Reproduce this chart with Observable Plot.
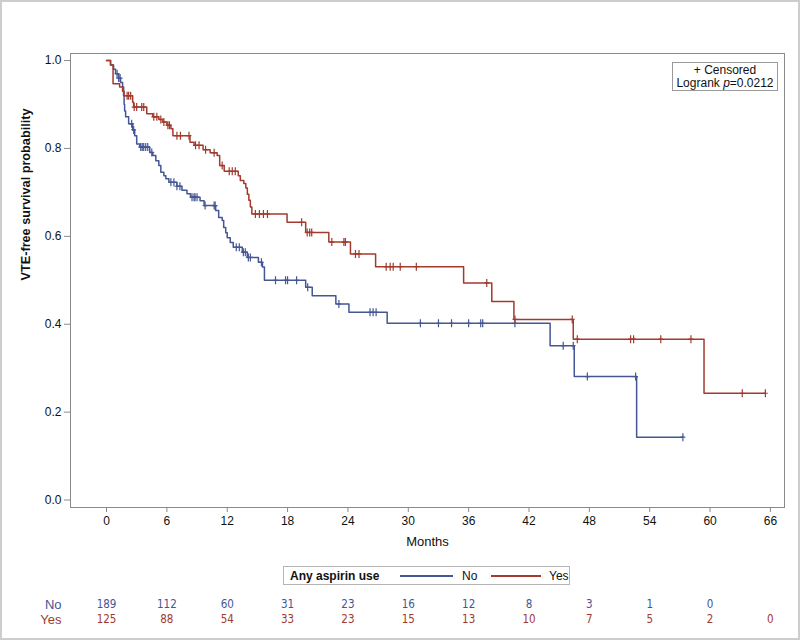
<!DOCTYPE html>
<html><head><meta charset="utf-8">
<script src="https://cdn.jsdelivr.net/npm/d3@7"></script>
<script src="https://cdn.jsdelivr.net/npm/@observablehq/plot@0.6"></script>
<style>
html,body{margin:0;padding:0;background:#fff;}
#wrap{position:relative;width:800px;height:640px;overflow:hidden;font-family:"Liberation Sans",Arial,sans-serif;color:#222;}
#wrap svg{position:absolute;left:0;}
#border{position:absolute;left:0;top:0;width:800px;height:640px;box-sizing:border-box;border:2px solid #cdcdcd;pointer-events:none;}
#inset{position:absolute;left:672px;top:62px;width:106px;height:29px;box-sizing:border-box;border:1px solid #9a9a9a;background:#fff;font-size:12px;line-height:13px;text-align:center;padding-top:1px;color:#111;}
#legend{position:absolute;left:283px;top:566px;width:287px;height:19px;box-sizing:border-box;border:1px solid #b5b5b5;font-size:12px;color:#111;}
#legend span{position:absolute;top:2px;}
#legend i.ln{position:absolute;top:8px;height:0;border-top:2px solid;}
</style></head>
<body><div id="wrap"><div id="border"></div></div>
<script>
// ---- data ----
const groups = ["No", "Yes"];
const groupColors = ["#445694", "#A23A2E"];

const noTimes = [0, 0.4, 0.7, 0.9, 1.2, 1.4, 1.6, 1.7, 1.75, 1.8, 1.9, 2.2, 2.6, 2.8, 3.0, 3.3, 4.3, 4.6, 4.9, 5.2, 5.4, 5.7, 5.9, 6.2, 7.0, 7.5, 8.0, 8.35, 9.3, 9.7, 10.85, 11.15, 11.5, 11.65, 11.85, 12.0, 12.3, 12.6, 13.5, 14.0, 15.1, 15.5, 15.7, 19.8, 20.45, 22.8, 24.1, 27.9, 44.1, 46.5, 52.7, 57.3];
const noSurv  = [1.0, 0.99, 0.98, 0.97, 0.96, 0.95, 0.94, 0.92, 0.90, 0.885, 0.872, 0.856, 0.842, 0.829, 0.81, 0.803, 0.791, 0.784, 0.772, 0.761, 0.746, 0.738, 0.731, 0.723, 0.714, 0.705, 0.697, 0.689, 0.681, 0.67, 0.659, 0.643, 0.636, 0.62, 0.608, 0.597, 0.586, 0.575, 0.564, 0.552, 0.541, 0.53, 0.50, 0.484, 0.465, 0.446, 0.427, 0.402, 0.351, 0.281, 0.143, 0.143];
const noCensored = [1.05, 1.2, 1.35, 2.5, 2.7, 3.4, 3.55, 3.7, 3.9, 4.1, 4.5, 6.4, 6.7, 7.0, 7.3, 8.5, 8.7, 8.8, 9.0, 9.8, 10.7, 10.8, 12.9, 13.2, 13.6, 13.8, 14.1, 14.3, 15.4, 16.8, 17.8, 18.0, 18.9, 20.0, 23.1, 26.2, 26.5, 26.8, 31.2, 33.0, 34.3, 36.0, 37.2, 37.4, 40.6, 45.4, 46.4, 47.8, 52.6, 57.3];

const yesTimes = [0, 0.4, 0.65, 1.3, 1.6, 1.75, 2.6, 2.7, 4.0, 4.6, 5.2, 5.6, 6.0, 6.4, 6.6, 8.3, 8.7, 9.6, 10.3, 11.0, 11.25, 11.7, 13.1, 13.3, 13.65, 13.85, 14.0, 14.15, 14.3, 14.45, 17.95, 19.8, 22.1, 24.25, 26.75, 35.5, 38.3, 40.5, 46.4, 59.4, 65.5];
const yesSurv  = [1.0, 0.99, 0.947, 0.94, 0.93, 0.92, 0.905, 0.894, 0.879, 0.872, 0.866, 0.86, 0.853, 0.845, 0.829, 0.814, 0.807, 0.797, 0.79, 0.784, 0.761, 0.748, 0.738, 0.727, 0.72, 0.71, 0.696, 0.682, 0.667, 0.651, 0.632, 0.609, 0.587, 0.56, 0.531, 0.494, 0.452, 0.411, 0.366, 0.243, 0.243];
const yesCensored = [2.05, 2.2, 2.4, 2.75, 3.0, 3.5, 3.7, 4.7, 5.0, 5.4, 5.7, 6.1, 6.25, 7.0, 7.35, 8.2, 8.85, 9.2, 9.85, 10.7, 11.5, 12.2, 12.5, 12.8, 14.8, 15.2, 15.6, 16.0, 19.4, 19.95, 20.2, 20.4, 22.4, 23.6, 23.75, 24.75, 25.1, 27.8, 28.2, 28.5, 29.2, 30.8, 37.8, 40.6, 46.3, 46.8, 52.1, 52.4, 55.1, 58.1, 63.2, 65.5];

const monthTicks = [0, 6, 12, 18, 24, 30, 36, 42, 48, 54, 60, 66];
const probTicks = [0, 0.2, 0.4, 0.6, 0.8, 1.0];
const riskTimes = [0, 6, 12, 18, 24, 30, 36, 42, 48, 54, 60, 66];
const noAtRisk  = [189, 112, 60, 31, 23, 16, 12, 8, 3, 1, 0];
const yesAtRisk = [125, 88, 54, 33, 23, 15, 13, 10, 7, 5, 2, 0];

const xLabel = "Months";
const yLabel = "VTE-free survival probability";

// ---- build tables ----
function stepRows(group, times, surv) { return times.map((t, i) => ({group, t, s: surv[i]})); }
function survAt(times, surv, t) { let v = surv[0]; for (let i = 0; i < times.length; i++) if (times[i] <= t) v = surv[i]; return v; }
const curves = [...stepRows("No", noTimes, noSurv), ...stepRows("Yes", yesTimes, yesSurv)];
const censors = [
  ...noCensored.map(t => ({group: "No", t, s: survAt(noTimes, noSurv, t)})),
  ...yesCensored.map(t => ({group: "Yes", t, s: survAt(yesTimes, yesSurv, t)}))
];
const risk = [
  ...noAtRisk.map((n, i) => ({group: "No", t: riskTimes[i], n})),
  ...yesAtRisk.map((n, i) => ({group: "Yes", t: riskTimes[i], n}))
];

const plusSymbol = {
  draw(ctx, size) {
    const r = Math.sqrt(size / Math.PI);
    ctx.moveTo(0, -r); ctx.lineTo(0, r);
    ctx.moveTo(-r * 0.6, 0); ctx.lineTo(r * 0.6, 0);
  }
};

const font = "Liberation Sans, Arial, sans-serif";
const xDomain = [-3.58, 67.4];
const colorScale = {domain: groups, range: groupColors};

const main = Plot.plot({
  width: 800, height: 560,
  marginLeft: 70, marginRight: 16, marginTop: 53, marginBottom: 53,
  style: {fontFamily: font, fontSize: "12px", background: "transparent", color: "#222"},
  x: {domain: xDomain, label: null},
  y: {domain: [-0.017, 1.016], label: null},
  color: colorScale,
  marks: [
    Plot.frame({stroke: "#8a8a8a"}),
    Plot.axisX({ticks: monthTicks, tickSize: 5, tickPadding: 4, stroke: "#8a8a8a", fill: "#111", label: null, tickFormat: d => String(d)}),
    Plot.axisY({ticks: probTicks, tickSize: 6, tickPadding: 3, stroke: "#8a8a8a", fill: "#111", label: null, tickFormat: d3.format(".1f")}),
    Plot.line(curves, {x: "t", y: "s", z: "group", stroke: "group", curve: "step-after", strokeWidth: 1.5}),
    Plot.dot(censors, {x: "t", y: "s", stroke: "group", symbol: plusSymbol, r: 4, strokeWidth: 1.2, fill: "none"}),
    Plot.text([xLabel], {text: d => d, frameAnchor: "bottom", dy: 38, fontSize: 13, fill: "#111"}),
    Plot.text([yLabel], {text: d => d, frameAnchor: "left", dx: -45, rotate: -90, fontSize: 12.7, fontWeight: "bold", fill: "#111"})
  ]
});
main.style.top = "0px";

const riskPlot = Plot.plot({
  width: 800, height: 50,
  marginLeft: 70, marginRight: 16, marginTop: 0, marginBottom: 0,
  style: {fontFamily: font, background: "transparent"},
  x: {domain: xDomain, axis: null},
  y: {type: "point", domain: groups, range: [14, 29], padding: 0, axis: null},
  color: colorScale,
  marks: [
    Plot.text(risk, {x: "t", y: "group", text: "n", fill: "group", fontSize: 11.5, fontFamily: "Liberation Sans Narrow, DejaVu Sans Condensed, sans-serif"}),
    Plot.text(groups, {y: d => d, text: d => d, fill: d => d, frameAnchor: "left", textAnchor: "end", dx: -9, fontSize: 13})
  ]
});
riskPlot.style.top = "590px";

const wrap = document.getElementById("wrap");
wrap.insertBefore(main, wrap.firstChild);
wrap.insertBefore(riskPlot, wrap.firstChild.nextSibling);

// inset box (censor key + test)
const inset = document.createElement("div");
inset.id = "inset";
inset.innerHTML = "+ Censored<br>Logrank <i>p</i>=0.0212";
wrap.appendChild(inset);

// legend
const legend = document.createElement("div");
legend.id = "legend";
legend.innerHTML =
  '<span style="left:6px;font-weight:bold">Any aspirin use</span>' +
  '<i class="ln" style="left:116px;width:53px;border-color:' + groupColors[0] + '"></i>' +
  '<span style="left:178px">' + groups[0] + '</span>' +
  '<i class="ln" style="left:207px;width:50px;border-color:' + groupColors[1] + '"></i>' +
  '<span style="left:265px">' + groups[1] + '</span>';
wrap.appendChild(legend);
</script>
</body></html>
